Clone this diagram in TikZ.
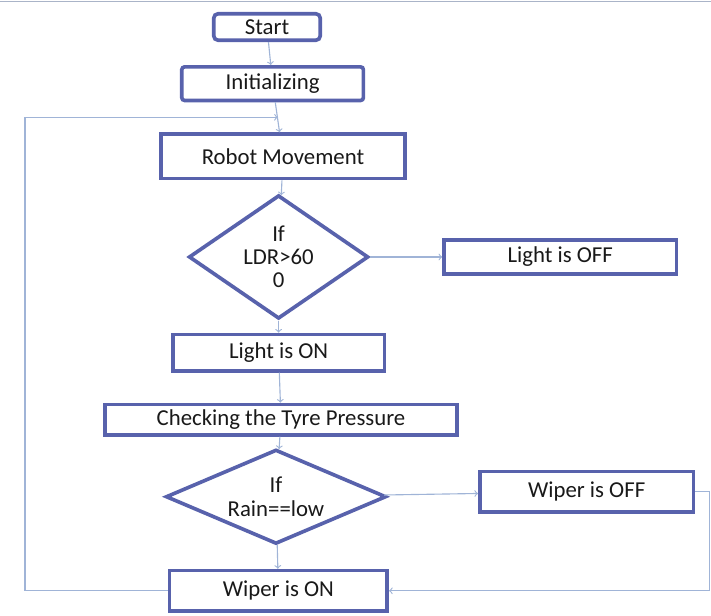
\documentclass[tikz,border=0pt]{standalone}
\usepackage{fontspec}
\setmainfont{Carlito}
\usepackage{xcolor}
\usetikzlibrary{calc, positioning, shapes.geometric}

\definecolor{boxblue}{RGB}{88,98,172}
\definecolor{linkblue}{RGB}{160,180,215}
\definecolor{topgray}{RGB}{170,180,200}

\begin{document}
\begin{tikzpicture}[-,auto,node distance=1cm,
                    flow box/.style={rectangle,draw=boxblue,line width=2.6pt,fill=white,
                                     text=black!90,font=\fontsize{16.2}{16.5}\selectfont},
                    cond node/.style={diamond,draw=boxblue,line width=2.6pt,fill=white,inner sep=0pt,
                                      text=black!90,align=center,font=\fontsize{16.2}{16.5}\selectfont},
                    link/.style={draw=linkblue,line width=0.8pt,->}]

  \useasboundingbox (0,0) rectangle (17.775,-15.375);
  \draw[topgray,line width=1.2pt] (0,-0.04) -- (17.775,-0.04);

  \node[flow box,rounded corners=3pt,minimum width=2.66cm,minimum height=0.66cm] (start) at (6.675,-0.675) {Start};
  \node[flow box,rounded corners=2pt,minimum width=4.54cm,minimum height=0.84cm] (init) [below=0.575cm of start,xshift=0.14cm] {Initializing};
  \node[flow box,minimum width=6.11cm,minimum height=1.11cm] (robot) [below=0.75cm of init,xshift=0.26cm] {Robot Movement};
  \node[cond node,aspect=1.45,minimum width=4.49cm,minimum height=3.09cm] (ldr) [below=0.325cm of robot,xshift=-0.11cm] {If\\LDR>60\\0};
  \node[flow box,minimum width=5.81cm,minimum height=0.86cm] (lightoff) [right=1.8cm of ldr] {Light is OFF};
  \node[flow box,minimum width=5.29cm,minimum height=0.91cm] (lighton) [below=0.3cm of ldr] {Light is ON};
  \node[flow box,minimum width=8.81cm,minimum height=0.76cm] (tyre) [below=0.75cm of lighton,xshift=0.06cm] {Checking the Tyre Pressure};
  \node[cond node,aspect=2.3,minimum width=5.51cm,minimum height=2.36cm] (rain) [below=0.275cm of tyre,xshift=-0.125cm] {If\\Rain==low};
  \node[flow box,minimum width=5.34cm,minimum height=1.01cm] (wiperoff) [right=2.25cm of rain,yshift=0.125cm] {Wiper is OFF};
  \node[flow box,minimum width=5.44cm,minimum height=1.01cm] (wiperon) [below=0.575cm of rain,xshift=0.06cm] {Wiper is ON};

  \coordinate (loopin) at ($(init.south)!0.5!(robot.north)$);
  \coordinate (leftrail) at (0.625,0);

  \path[link]
    (start) edge (init)
    (init) edge (robot)
    (robot) edge (ldr)
    (ldr) edge (lightoff)
        edge (lighton)
    (lighton) edge (tyre)
    (tyre) edge (rain)
    (rain) edge (wiperoff)
        edge (wiperon);

  % loops back
  \draw[link] (wiperon.west) -- (wiperon.west -| leftrail) |- (loopin);
  \draw[link] (wiperoff.east) -- ++(0.35,0) |- (wiperon.east);

\end{tikzpicture}
\end{document}
